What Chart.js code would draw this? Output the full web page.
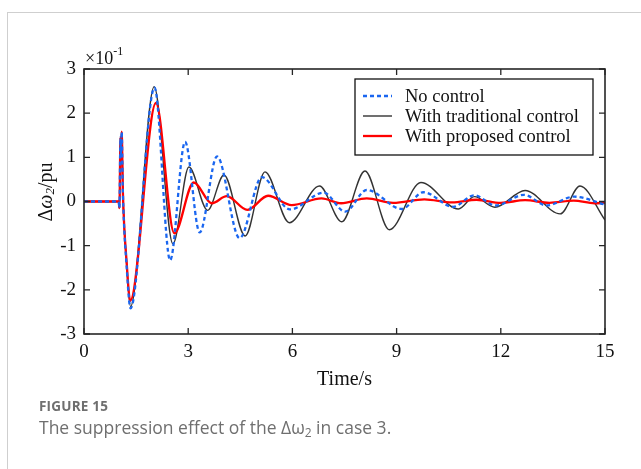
<!DOCTYPE html>
<html>
<head>
<meta charset="utf-8">
<script src="https://cdn.jsdelivr.net/npm/chart.js@4/dist/chart.umd.min.js"></script>
<style>
  html, body { margin: 0; padding: 0; background: #fff; }
  body { width: 641px; height: 469px; position: relative; overflow: hidden; }
  #card { position: absolute; left: 7px; top: 12px; width: 640px; height: 470px;
          border-top: 1px solid #cfcfcf; border-left: 1px solid #cfcfcf; box-sizing: border-box; }
  #wrap { position: absolute; left: 0; top: 0; width: 641px; height: 400px; }
  .fig { position: absolute; left: 39px; top: 397px; font: bold 13.5px "Open Sans", sans-serif;
         color: #6f6f6f; letter-spacing: 0.2px; }
  .cap { position: absolute; left: 39px; top: 415px; font: 17.5px "Open Sans", sans-serif; color: #6f6f6f; }
  .cap sub { font-size: 12px; vertical-align: -3px; line-height: 0; }
</style>
</head>
<body>
<div id="card"></div>
<div id="wrap"><canvas id="c" width="641" height="400"></canvas></div>
<div class="fig">FIGURE 15</div>
<div class="cap">The suppression effect of the Δω<sub>2</sub> in case 3.</div>
<script>
// Δω2 response (units of 1e-1 pu) against time in seconds
const xTicks = [0, 3, 6, 9, 12, 15];
const yTicks = [-3, -2, -1, 0, 1, 2, 3];
const seriesNames = ['No control', 'With traditional control', 'With proposed control'];

const noControl = [
  [0, 0], [1.0, 0], [1.02, -0.15], [1.05, 1.45], [1.065, 1.05], [1.085, 1.58],
  [1.12, 0.2], [1.23, -1.5], [1.34, -2.42], [2.03, 2.58], [2.48, -1.33],
  [2.91, 1.35], [3.33, -0.7], [3.83, 1.02], [4.48, -0.83], [5.12, 0.55],
  [5.93, -0.18], [6.9, 0.2], [7.52, -0.23], [8.14, 0.26], [9.15, -0.17],
  [9.77, 0.21], [10.63, -0.12], [11.23, 0.14], [11.85, -0.09], [12.67, 0.15],
  [13.32, -0.09], [14.11, 0.11], [15, -0.07]
];
const traditional = [
  [0, 0], [1.0, 0], [1.02, -0.15], [1.05, 1.45], [1.065, 1.05], [1.085, 1.58],
  [1.12, 0.2], [1.23, -1.45], [1.34, -2.38], [2.02, 2.6], [2.56, -0.96],
  [3.02, 0.78], [3.56, -0.2], [4.03, 0.6], [4.64, -0.78], [5.21, 0.67],
  [5.91, -0.48], [6.78, 0.35], [7.42, -0.46], [8.09, 0.69], [8.79, -0.64],
  [9.7, 0.43], [10.78, -0.17], [11.24, 0.11], [11.83, -0.13], [12.7, 0.25],
  [13.71, -0.28], [14.28, 0.35], [15, -0.42]
];
const proposed = [
  [0, 0], [1.0, 0], [1.02, -0.15], [1.05, 1.45], [1.065, 1.05], [1.085, 1.58],
  [1.12, 0.2], [1.23, -1.4], [1.33, -2.25], [2.07, 2.23], [2.6, -0.72],
  [3.16, 0.43], [3.68, -0.04], [4.11, 0.12], [4.7, -0.19], [5.3, 0.13],
  [5.98, -0.08], [6.84, 0.07], [7.4, -0.04], [8.14, 0.07], [8.9, -0.03],
  [9.8, 0.05], [10.6, -0.02], [11.3, 0.04], [12.0, -0.03], [12.7, 0.03],
  [13.4, -0.03], [14.1, 0.02], [14.7, -0.04], [15, -0.03]
];

const toPoints = arr => arr.map(([x, y]) => ({ x, y }));
const SERIF = '"Liberation Serif", "Times New Roman", serif';
const TICK = 6;

const styles = [
  { color: '#1a66f0', width: 2.3, dash: [4, 3], order: 1 },
  { color: '#333333', width: 1.4, dash: [], order: 3 },
  { color: '#ff0000', width: 2.3, dash: [], order: 2 }
];

// box, inward ticks on all four sides, legend and axis annotations
const decor = {
  id: 'decor',
  afterDatasetsDraw(chart) {
    const { ctx, chartArea: a, scales: { x, y } } = chart;
    ctx.save();
    ctx.strokeStyle = '#262626';
    ctx.lineWidth = 1.6;
    ctx.strokeRect(a.left, a.top, a.right - a.left, a.bottom - a.top);
    ctx.lineWidth = 1.3;
    ctx.beginPath();
    x.ticks.forEach(t => {
      const px = x.getPixelForValue(t.value);
      ctx.moveTo(px, a.bottom); ctx.lineTo(px, a.bottom - TICK);
      ctx.moveTo(px, a.top); ctx.lineTo(px, a.top + TICK);
    });
    y.ticks.forEach(t => {
      const py = y.getPixelForValue(t.value);
      ctx.moveTo(a.left, py); ctx.lineTo(a.left + TICK, py);
      ctx.moveTo(a.right, py); ctx.lineTo(a.right - TICK, py);
    });
    ctx.stroke();

    // legend box
    const lx = 355, ly = 79, lw = 238, lh = 76;
    ctx.fillStyle = '#fff';
    ctx.fillRect(lx, ly, lw, lh);
    ctx.strokeStyle = '#111';
    ctx.lineWidth = 1.3;
    ctx.strokeRect(lx, ly, lw, lh);
    ctx.font = '18.5px ' + SERIF;
    ctx.textBaseline = 'middle';
    ctx.textAlign = 'left';
    seriesNames.forEach((name, i) => {
      const s = styles[i];
      const yy = ly + 17 + i * 20;
      ctx.strokeStyle = s.color;
      ctx.lineWidth = s.width;
      ctx.setLineDash(s.dash);
      ctx.beginPath(); ctx.moveTo(lx + 8, yy); ctx.lineTo(lx + 37, yy); ctx.stroke();
      ctx.setLineDash([]);
      ctx.fillStyle = '#111';
      ctx.fillText(name, lx + 50, yy + 1);
    });

    // scale multiplier above the y axis
    ctx.fillStyle = '#111';
    ctx.textBaseline = 'alphabetic';
    ctx.font = '18px ' + SERIF;
    ctx.fillText('×10', a.left + 1, a.top - 5);
    const w10 = ctx.measureText('×10').width;
    ctx.font = '12px ' + SERIF;
    ctx.fillText('-1', a.left + 1 + w10, a.top - 14);

    // y axis title: Δω2/pu
    ctx.translate(47, 192);
    ctx.rotate(-Math.PI / 2);
    const parts = [
      { t: 'Δ', f: '20px ' + SERIF, dy: 0 },
      { t: 'ω', f: 'italic 20px ' + SERIF, dy: 0 },
      { t: '2', f: 'italic 13px ' + SERIF, dy: 4 },
      { t: '/pu', f: '20px ' + SERIF, dy: 0 }
    ];
    let total = 0;
    parts.forEach(p => { ctx.font = p.f; p.w = ctx.measureText(p.t).width; total += p.w; });
    let cx = -total / 2;
    ctx.textBaseline = 'middle';
    parts.forEach(p => { ctx.font = p.f; ctx.fillText(p.t, cx, p.dy); cx += p.w; });
    ctx.restore();
  }
};

const datasets = [noControl, traditional, proposed].map((d, i) => ({
  label: seriesNames[i],
  data: toPoints(d),
  borderColor: styles[i].color,
  borderWidth: styles[i].width,
  borderDash: styles[i].dash,
  order: styles[i].order,
  pointRadius: 0,
  fill: false,
  cubicInterpolationMode: 'monotone'
}));

new Chart(document.getElementById('c'), {
  type: 'line',
  data: { datasets },
  options: {
    responsive: false,
    animation: false,
    layout: { padding: { left: 0, right: 36, top: 69, bottom: 0 } },
    plugins: { legend: { display: false }, tooltip: { enabled: false } },
    scales: {
      x: {
        type: 'linear', min: 0, max: 15,
        afterBuildTicks: s => { s.ticks = xTicks.map(v => ({ value: v })); },
        afterFit: s => { s.height = 66; },
        grid: { display: false, drawTicks: false },
        border: { display: false },
        ticks: { color: '#111', font: { family: SERIF, size: 19 }, padding: 7, maxRotation: 0 },
        title: { display: true, text: 'Time/s', color: '#111', font: { family: SERIF, size: 20 },
                 padding: { top: 0, bottom: 8 } }
      },
      y: {
        type: 'linear', min: -3, max: 3,
        afterBuildTicks: s => { s.ticks = yTicks.map(v => ({ value: v })); },
        afterFit: s => { s.width = 84; },
        grid: { display: false, drawTicks: false },
        border: { display: false },
        ticks: { color: '#111', font: { family: SERIF, size: 19 }, padding: 8 }
      }
    }
  },
  plugins: [decor]
});
</script>
</body>
</html>
